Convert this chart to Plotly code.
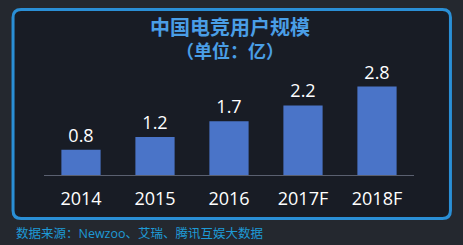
import plotly.graph_objects as go

categories = ["2014", "2015", "2016", "2017F", "2018F"]
values = [0.8, 1.2, 1.7, 2.2, 2.8]
value_labels = ["0.8", "1.2", "1.7", "2.2", "2.8"]
title_lines = ["中国电竞用户规模", "（单位：亿）"]
source_text = "数据来源：Newzoo、艾瑞、腾讯互娱大数据"

W, H = 463, 245
ml, mr, mt, mb = 43.5, 49, 65, 70
pw = W - ml - mr
ph = H - mt - mb
ymax = ph / 31.6

FONT = "Open Sans, Noto Sans CJK SC, sans-serif"

def px_x(v):
    return (v - ml) / pw

def px_y(v):
    return (H - mb - v) / ph

# rounded panel path in paper coords
x0, x1, y0, y1 = 12.5, 450.5, 9.5, 218.5
r = 8
rx, ry = r / pw, r / ph
X0, X1 = px_x(x0), px_x(x1)
Y0, Y1 = px_y(y0), px_y(y1)  # Y0 top, Y1 bottom
path = (
    f"M {X0+rx},{Y0} L {X1-rx},{Y0} Q {X1},{Y0} {X1},{Y0-ry} "
    f"L {X1},{Y1+ry} Q {X1},{Y1} {X1-rx},{Y1} "
    f"L {X0+rx},{Y1} Q {X0},{Y1} {X0},{Y1+ry} "
    f"L {X0},{Y0-ry} Q {X0},{Y0} {X0+rx},{Y0} Z"
)

fig = go.Figure()
fig.add_trace(go.Bar(
    x=categories, y=values, width=0.53,
    marker=dict(color="#4a74c8", line=dict(width=0)),
    text=value_labels, textposition="outside",
    textfont=dict(color="#ffffff", size=18, family=FONT),
    cliponaxis=False,
))

fig.add_shape(type="path", xref="paper", yref="paper", path=path,
              fillcolor="#181c25", line=dict(color="#2a8fd6", width=3), layer="below")

fig.add_annotation(text=f"<b>{title_lines[0]}</b>", xref="paper", yref="paper",
                   x=px_x(229.5), y=px_y(27), xanchor="center", yanchor="middle",
                   showarrow=False, font=dict(size=20, color="#4a9ee6", family=FONT))
fig.add_annotation(text=f"<b>{title_lines[1]}</b>", xref="paper", yref="paper",
                   x=px_x(229.5), y=px_y(51.5), xanchor="center", yanchor="middle",
                   showarrow=False, font=dict(size=18, color="#4a9ee6", family=FONT))
fig.add_annotation(text=source_text, xref="paper", yref="paper",
                   x=px_x(13), y=px_y(233), xanchor="left", yanchor="middle",
                   showarrow=False, font=dict(size=12.5, color="#1e9ad6", family=FONT))

fig.update_layout(
    width=W, height=H,
    margin=dict(l=ml, r=mr, t=mt, b=mb, pad=0),
    paper_bgcolor="#24282f", plot_bgcolor="rgba(0,0,0,0)",
    showlegend=False, bargap=0.47,
    xaxis=dict(showgrid=False, showline=True, linecolor="#5a6070", linewidth=1,
               ticks="", tickfont=dict(size=18, color="#ffffff", family=FONT),
               range=[-0.5, 4.5], fixedrange=True, ticklabelstandoff=7),
    yaxis=dict(visible=False, range=[0, ymax], fixedrange=True),
)

fig.write_html("out.html")
